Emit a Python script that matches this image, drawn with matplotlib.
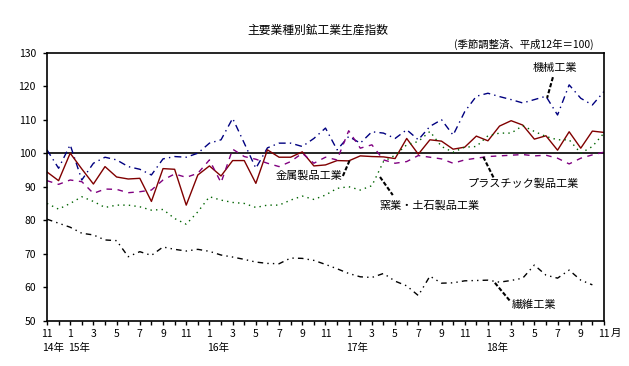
import matplotlib
matplotlib.use("Agg")
import matplotlib.pyplot as plt
import matplotlib.transforms as mtransforms

plt.rcParams['font.family'] = ['Noto Sans CJK JP', 'DejaVu Sans']

# months Nov 2014 .. Nov 2018
month_nums = [11, 12] + [m for y in range(4) for m in range(1, 13)][:47]
year_labels = {0: "14年", 2: "15年", 14: "16年", 26: "17年", 38: "18年"}

machinery = [101, 95.5, 102.5, 92, 97, 98.8, 98, 96, 95.2, 93.5,
             98.3, 99, 98.8, 100, 103, 104, 110.4, 103, 95.5, 101.6,
             103, 103, 102, 104.4, 107.5, 101, 105, 103, 106.4, 106,
             104.4, 107, 104, 108, 110, 105.4, 112.4, 117, 117.9, 116.9,
             116, 115, 116, 117, 111.4, 120.4, 116.4, 114.4, 118.4]
metal = [94.4, 91.8, 100, 95.3, 90.8, 96, 92.9, 92.3, 92.5, 85.6,
         95.4, 95.2, 84.5, 93.5, 96.2, 93.2, 97.8, 97.8, 91, 101,
         98.8, 98.8, 100.4, 96.2, 96.5, 97.8, 97.7, 99.2, 99, 98.9,
         98.4, 104.4, 99.7, 104, 103.6, 101.2, 101.8, 105.1, 103.7, 108.1,
         109.7, 108.4, 104.2, 105.2, 100.9, 106.4, 101.5, 106.6, 106.2]
plastic = [91.8, 90.7, 92, 91.5, 88, 89.3, 89.2, 88.2, 88.5, 89,
           92, 93.8, 92.8, 94, 98, 91.2, 101.2, 99, 98.2, 97,
           96, 97.5, 100, 97, 98.8, 98, 106.7, 101.5, 102.5, 98,
           97, 97.5, 99.3, 98.8, 98.3, 97, 98, 98.5, 99, 99.2,
           99.4, 99.6, 99.2, 99.4, 98.5, 96.8, 98.5, 99.5, 100.3]
ceramics = [85, 83.3, 85, 87, 85.6, 83.8, 84.5, 84.5, 84, 83,
            83.2, 80.5, 78.8, 82.5, 87, 86, 85.3, 85, 83.8, 84.5,
            84.5, 86, 87.2, 86.2, 87.5, 89.5, 90, 89, 90.3, 97.5,
            99.4, 102.5, 103.5, 106.5, 102, 100.3, 101.8, 102, 105.2, 106,
            106, 108.2, 106.5, 105, 104, 104, 100, 102, 106]
textile = [80.3, 79.1, 77.9, 76.1, 75.6, 74.1, 73.9, 69.1, 70.6, 69.5,
           72, 71.3, 70.8, 71.3, 70.7, 69.6, 69, 68.3, 67.5, 67.1,
           67, 68.7, 68.6, 68, 66.8, 65.5, 64.1, 63.1, 62.9, 64.1,
           61.8, 60.4, 57.5, 63.3, 61.2, 61.3, 61.9, 62, 62.1, 61.5,
           62, 62.7, 66.6, 63.6, 62.7, 65.1, 62.1, 60.7]

fig = plt.figure(figsize=(6.29, 3.66), dpi=100)
ax = fig.add_axes([0.0747, 0.1238, 0.8855, 0.7322])

ax.axhline(100, color="black", lw=1.2, zorder=1)

ax.plot(range(len(machinery)), machinery, color="#000080", lw=1, dashes=(5, 3, 1, 3))
ax.plot(range(len(metal)), metal, color="#800000", lw=1)
ax.plot(range(len(plastic)), plastic, color="#800080", lw=1, dashes=(4, 4))
ax.plot(range(len(ceramics)), ceramics, color="#006400", lw=1, dashes=(1, 3))
ax.plot(range(len(textile)), textile, color="black", lw=1, dashes=(4, 3, 1, 3, 1, 3))

ax.set_xlim(0, 48)
ax.set_ylim(50, 130)
ax.set_yticks(range(50, 131, 10))
ax.set_xticks(range(49))
ax.set_xticklabels([str(m) if m % 2 == 1 else "" for m in month_nums])
ax.tick_params(axis="both", direction="out", length=3, width=1, labelsize=7.5, color="black")
ax.tick_params(axis="y", pad=5)
ax.tick_params(axis="x", pad=3)
for s in ax.spines.values():
    s.set_linewidth(1.2)

# year labels under the month labels
trans = mtransforms.blended_transform_factory(ax.transData, ax.transAxes)
for i, lab in year_labels.items():
    xpos = i - 0.45 if i == 0 else i - 0.2
    ax.text(xpos, -0.1, lab, transform=trans, ha="left", va="center", fontsize=7.5)
ax.text(48.6, -0.045, "月", transform=trans, ha="left", va="center", fontsize=7.5)

# series labels with leader lines
labels = [
    ("機械工業", (43.8, 125.4), (43.6, 122.7), (43.1, 116.5)),
    ("金属製品工業", (22.6, 93.2), (25.5, 93.2), (26.1, 98.0)),
    ("窯業・土石製品工業", (33.0, 84.5), (28.7, 92.9), (29.8, 87.5)),
    ("プラスチック製品工業", (41.0, 90.8), (37.6, 98.9), (38.5, 92.6)),
    ("繊維工業", (42.0, 54.7), (38.6, 61.3), (39.9, 55.9)),
]
for text, pos, p1, p2 in labels:
    ax.text(pos[0], pos[1], text, ha="center", va="center", fontsize=8)
    ax.plot([p1[0], p2[0]], [p1[1], p2[1]], color="black", lw=1.5, dashes=(2, 1))

fig.text(0.505, 0.918, "主要業種別鉱工業生産指数", ha="center", va="center", fontsize=8.5)
fig.text(0.943, 0.879, "(季節調整済、平成12年＝100)", ha="right", va="center", fontsize=7.5)

fig.savefig("out.png", dpi=100)
